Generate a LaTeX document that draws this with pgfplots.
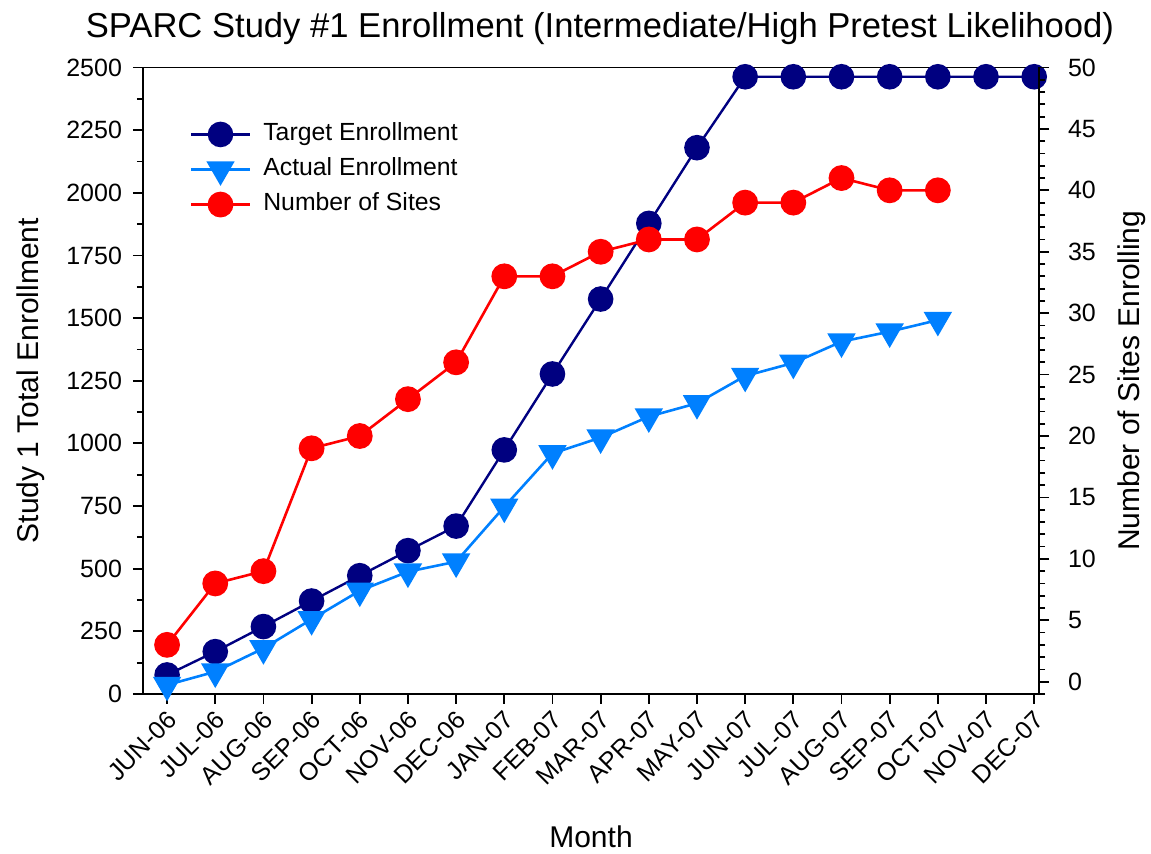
\documentclass[border=0pt]{standalone}
\usepackage{fontspec}
\setmainfont{Liberation Sans}
\usepackage{pgfplots}
\pgfplotsset{compat=1.18}
\definecolor{navy}{RGB}{0,0,128}
\definecolor{azure}{RGB}{0,128,255}
\definecolor{sitered}{RGB}{255,0,0}

\pgfplotstableread{
x target
0 76
1 169
2 269
3 371
4 472
5 572
6 670
7 974
8 1277
9 1576
10 1878
11 2180
12 2463
13 2463
14 2463
15 2463
16 2463
17 2463
18 2463
}\targettable

\pgfplotstableread{
x actual
0 36
1 89
2 182
3 298
4 412
5 488
6 528
7 747
8 960
9 1023
10 1107
11 1160
12 1269
13 1321
14 1406
15 1446
16 1492
}\actualtable

\pgfplotstableread{
x sites
0 3
1 8
2 9
3 19
4 20
5 23
6 26
7 33
8 33
9 35
10 36
11 36
12 39
13 39
14 41
15 40
16 40
}\sitestable

\pgfplotsset{
  common/.style={
    at={(0,0)}, anchor=south west,
    scale only axis, width=448pt, height=313.25pt,
    xmin=-0.5, xmax=18.1,
    clip=false,
    tick align=outside,
    major tick length=5pt, minor tick length=3pt,
    every tick/.style={black, line width=0.9pt},
    axis line style={black, line width=0.9pt},
    /pgf/number format/assume math mode=true,
    /pgf/number format/1000 sep={},
    tick label style={font=\fontsize{12.5}{15}\selectfont},
    label style={font=\fontsize{15}{18}\selectfont},
  },
}

\begin{document}
\begin{tikzpicture}
\useasboundingbox (-71.5pt,-80pt) rectangle (504pt,347pt);
\begin{axis}[
  common,
  ymin=0, ymax=2500,
  xtick={0,...,18},
  xticklabels={JUN-06,JUL-06,AUG-06,SEP-06,OCT-06,NOV-06,DEC-06,JAN-07,FEB-07,MAR-07,APR-07,MAY-07,JUN-07,JUL-07,AUG-07,SEP-07,OCT-07,NOV-07,DEC-07},
  xticklabel style={rotate=45, anchor=east, yshift=-6pt, xshift=1pt},
  yticklabel style={xshift=-2pt},
  ytick={0,250,...,2500},
  minor ytick={125,375,...,2375},
  xtick pos=left, ytick pos=left,
  title={SPARC Study \#1 Enrollment (Intermediate/High Pretest Likelihood)},
  title style={at={(0.51,1.028)}, anchor=base, font=\fontsize{17.3}{20}\selectfont},
  xlabel={Month},
  xlabel style={at={(0.5,-0.2458)}, anchor=base},
  ylabel={Study 1 Total Enrollment},
  ylabel style={at={(-0.117,0.5)}, anchor=base},
  legend style={at={(0.045,0.922)}, anchor=north west, draw=none, fill=none,
    font=\fontsize{12.4}{15}\selectfont, row sep=3.8pt, column sep=5pt,
    nodes={inner sep=1pt, text height=9pt, text depth=2.7pt}},
  legend cell align=left,
  legend image code/.code={\draw[mark repeat=2,mark phase=2] plot coordinates {(0pt,0pt) (14.75pt,0pt) (29.5pt,0pt)};},
]
\addplot[navy, line width=1.2pt, mark=*, mark size=5.8pt, mark options={solid, fill=navy, draw=navy}]
  table[x=x, y=target] {\targettable};
\addlegendentry{Target Enrollment}
\addplot[azure, line width=1.3pt, mark=triangle*, mark size=6.9pt, mark options={solid, fill=azure, draw=azure, rotate=180}]
  table[x=x, y=actual] {\actualtable};
\addlegendentry{Actual Enrollment}
\addlegendimage{sitered, line width=1.3pt, mark=*, mark size=5.8pt, mark options={solid, fill=sitered, draw=sitered}}
\addlegendentry{Number of Sites}
\end{axis}
\begin{axis}[
  common,
  ymin=-1, ymax=50,
  axis x line=none,
  axis y line*=right,
  ytick={0,5,...,50},
  minor ytick={-1,0,...,50},
  ytick pos=right,
  yticklabel style={xshift=6pt},
  ylabel={Number of Sites Enrolling},
  ylabel style={at={(1.1127,0.5)}, anchor=base},
]
\addplot[sitered, line width=1.3pt, mark=*, mark size=5.8pt, mark options={solid, fill=sitered, draw=sitered}]
  table[x=x, y=sites] {\sitestable};
\end{axis}
\end{tikzpicture}
\end{document}
